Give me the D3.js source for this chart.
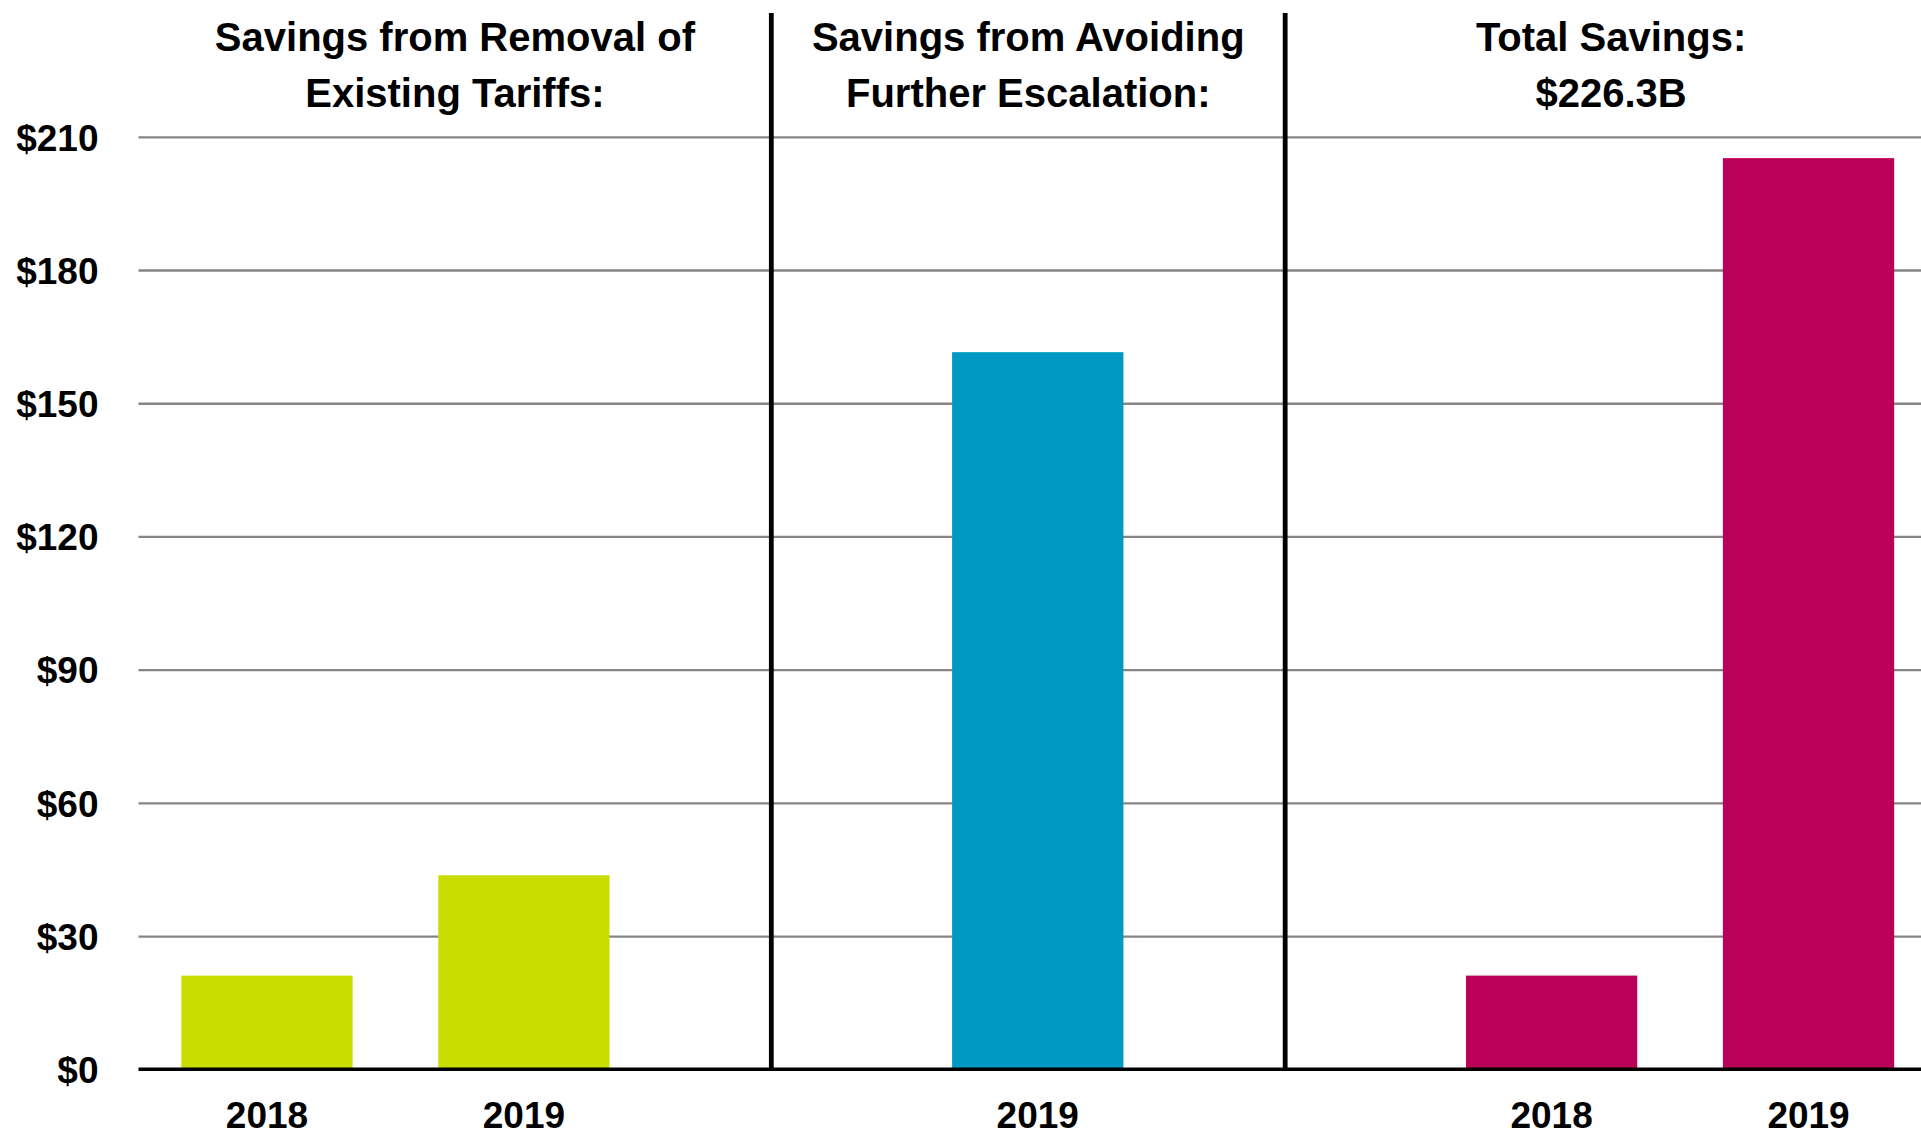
<!DOCTYPE html>
<html>
<head>
<meta charset="utf-8">
<script src="https://cdn.jsdelivr.net/npm/d3@7"></script>
<style>
  body { margin: 0; background: #fff; }
  svg { display: block; }
  text { font-family: "Liberation Sans", Arial, sans-serif; font-weight: bold; fill: #000; }
</style>
</head>
<body>
<div id="chart"></div>
<script>
// slot labels along the x axis (empty = spacer slot between panels)
let years = ["2018", "2019", "", "2019", "", "2018", "2019"];
// savings in $ billions
let values = [21.1, 43.7, null, 161.5, null, 21.1, 205.2];
// which panel each slot belongs to
let slotPanel = [0, 0, 1, 1, 2, 2, 2];
let panelTitles = [
  ["Savings from Removal of", "Existing Tariffs:"],
  ["Savings from Avoiding", "Further Escalation:"],
  ["Total Savings:", "$226.3B"]
];
let panelColors = ["#c9de00", "#0099c4", "#bb0059"];
let yTicks = [0, 30, 60, 90, 120, 150, 180, 210];

let W = 1921, H = 1136;
// plot runs past the right edge, the source chart is cropped there
let margin = {top: 136.8, left: 138.5, bottom: 66.7, right: -16};

let svg = d3.select("#chart").append("svg").attr("width", W).attr("height", H);

let x = d3.scaleBand()
  .domain(d3.range(years.length))
  .range([margin.left, W - margin.right])
  .paddingInner(1/3)
  .paddingOuter(1/6);

let y = d3.scaleLinear()
  .domain([0, 210])
  .range([H - margin.bottom, margin.top]);

// gridlines
svg.append("g")
  .attr("transform", `translate(${margin.left},0)`)
  .call(d3.axisLeft(y).tickValues(yTicks.slice(1)).tickSize(-(W - margin.right - margin.left)).tickFormat(""))
  .call(g => g.select(".domain").remove())
  .call(g => g.selectAll("line").attr("stroke", "#858585").attr("stroke-width", 2.3));

// y axis labels
svg.append("g")
  .attr("transform", `translate(${margin.left},0)`)
  .call(d3.axisLeft(y).tickValues(yTicks).tickSize(0).tickPadding(40).tickFormat(d => "$" + d))
  .call(g => g.select(".domain").remove())
  .call(g => g.selectAll("text").attr("font-size", 37).attr("dy", "0.36em"));

// bars
svg.append("g")
  .selectAll("rect")
  .data(values.map((v, i) => ({v: v, i: i})).filter(d => d.v != null))
  .enter().append("rect")
  .attr("x", d => x(d.i))
  .attr("width", x.bandwidth())
  .attr("y", d => y(d.v))
  .attr("height", d => y(0) - y(d.v))
  .attr("fill", d => panelColors[slotPanel[d.i]]);

// x axis labels
svg.append("g")
  .attr("transform", `translate(0,${y(0)})`)
  .call(d3.axisBottom(x).tickSize(0).tickPadding(32).tickFormat(i => years[i]))
  .call(g => g.select(".domain").remove())
  .call(g => g.selectAll("text").attr("font-size", 37));

// baseline
svg.append("line")
  .attr("x1", margin.left).attr("x2", W)
  .attr("y1", y(0)).attr("y2", y(0))
  .attr("stroke", "#000").attr("stroke-width", 3.5);

// panel dividers, just left of the spacer slots
let x0 = x.range()[0];
let dividers = [2, 4].map(k => x0 + x.step() * (k + 0.463));
svg.append("g")
  .selectAll("line")
  .data(dividers)
  .enter().append("line")
  .attr("x1", d => d).attr("x2", d => d)
  .attr("y1", 13).attr("y2", y(0))
  .attr("stroke", "#000").attr("stroke-width", 4.8);

// panel titles
let edges = [x0].concat(dividers, [x.range()[1]]);
let titles = svg.append("g")
  .selectAll("text")
  .data(panelTitles)
  .enter().append("text")
  .attr("text-anchor", "middle")
  .attr("font-size", 40)
  .attr("x", (d, i) => (edges[i] + edges[i + 1]) / 2)
  .attr("y", 51);

titles.selectAll("tspan")
  .data(d => d)
  .enter().append("tspan")
  .attr("x", function() { return this.parentNode.getAttribute("x"); })
  .attr("dy", (d, i) => i == 0 ? 0 : 56)
  .text(d => d);
</script>
</body>
</html>
